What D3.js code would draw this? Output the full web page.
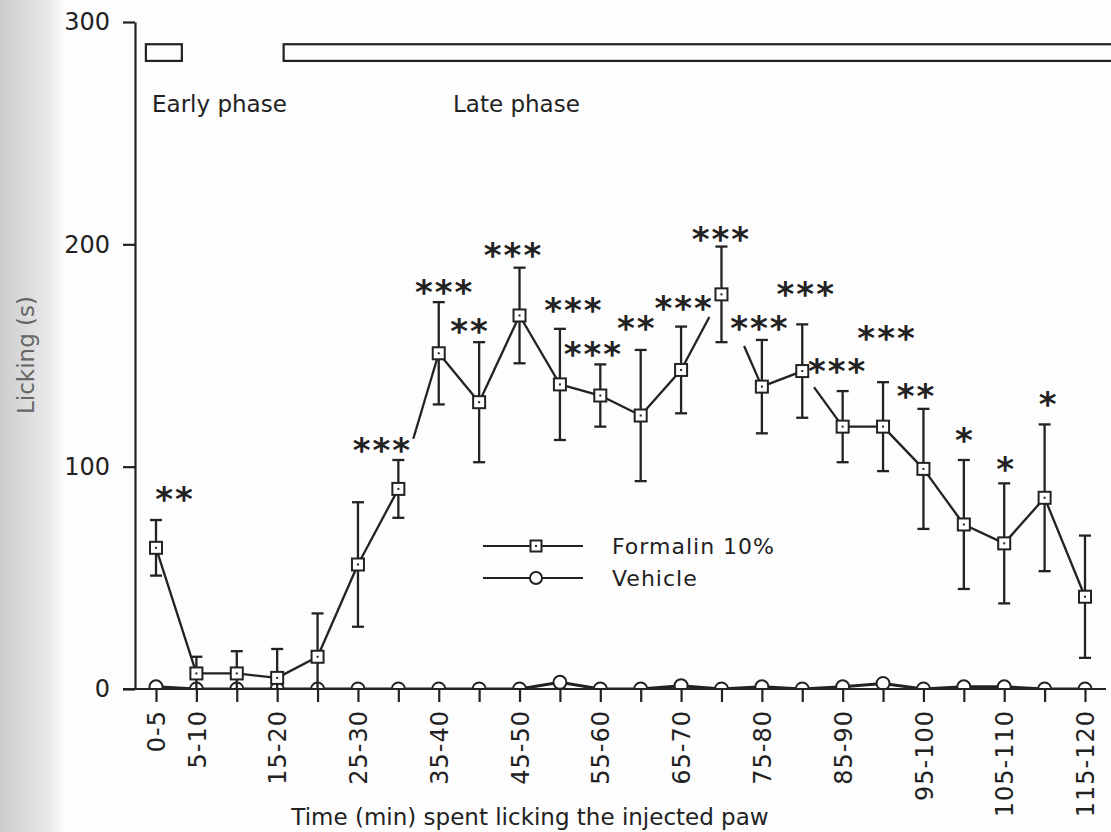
<!DOCTYPE html>
<html>
<head>
<meta charset="utf-8">
<script src="https://cdnjs.cloudflare.com/ajax/libs/d3/7.8.5/d3.min.js"></script>
<style>
	body { margin: 0; background: #fff; }
	svg { display: block; }
	text { font-family: "DejaVu Sans", sans-serif; fill: #222; }
</style>
</head>
<body>
<div id="chart"></div>
<script>

// 5 minute time bins
var bins = ["0-5", "5-10", "10-15", "15-20", "20-25", "25-30", "30-35", "35-40",
	"40-45", "45-50", "50-55", "55-60", "60-65", "65-70", "70-75", "75-80",
	"80-85", "85-90", "90-95", "95-100", "100-105", "105-110", "110-115", "115-120"];

// only these bins carry a tick label
var shownBins = ["0-5", "5-10", "15-20", "25-30", "35-40", "45-50", "55-60", "65-70",
	"75-80", "85-90", "95-100", "105-110", "115-120"];

// licking time (s), mean and s.e.m.
var formalinMean = [63.5, 7, 7, 5, 14.5, 56, 90, 151, 129, 168, 137, 132,
	123, 143.5, 177.5, 136, 143, 118, 118, 99, 74, 65.5, 86, 41.5];
var formalinSem = [12.5, 7.5, 10, 13, 19.5, 28, 13, 23, 27, 21.5, 25, 14,
	29.5, 19.5, 21.5, 21, 21, 16, 20, 27, 29, 27, 33, 27.5];
var vehicleMean = [1, 0, 0, 0, 0, 0, 0, 0, 0, 0, 3, 0,
	0, 1.5, 0, 1, 0, 1, 2.5, 0, 1, 1, 0, 0];

// significance vs vehicle
var sig = ["**", "", "", "", "", "", "***", "***", "**", "***", "***", "***",
	"**", "***", "***", "***", "***", "***", "***", "**", "*", "*", "*", ""];

var yTicks = [0, 100, 200, 300];

// phases in minutes
var phaseNames = ["Early phase", "Late phase"];
var phaseStart = [1.25, 18.3];
var phaseEnd = [5.7, 140];

var legendNames = ["Formalin 10%", "Vehicle"];

// ---- layout tweaks (pixels) ----
var sigNudge = [[19, -28], [0, 0], [0, 0], [0, 0], [0, 0], [0, 0], [-16, -17], [6, -17],
	[-9, -18], [-6, -20], [14, -26], [-7, -17], [-4, -29], [3, -26], [0, -15], [-2, -19],
	[4, -37], [-5, -27], [4, -51], [-7, -20], [1, -27], [2, -21], [4, -27], [0, 0]];
// parts of the connecting line left out (segment index: [from t, to t])
var lineTrim = { 6: [0.37, 1], 13: [0, 0.7], 14: [0.56, 1], 16: [0.29, 1] };

var W = 1111, H = 832;
var margin = { top: 22, left: 135, bottom: 143 };
var ink = "#222";

var svg = d3.select("#chart").append("svg")
	.attr("width", W)
	.attr("height", H);

// scan shadow at the left edge
var defs = svg.append("defs");
var grad = defs.append("linearGradient").attr("id", "shade");
grad.append("stop").attr("offset", "0").attr("stop-color", "#cdcdcd");
grad.append("stop").attr("offset", "0.7").attr("stop-color", "#e6e6e6");
grad.append("stop").attr("offset", "1").attr("stop-color", "#fbfbfb");
svg.append("rect").attr("width", W).attr("height", H).attr("fill", "#fdfdfd");
svg.append("rect").attr("width", 64).attr("height", H).attr("fill", "url(#shade)");

defs.append("clipPath").attr("id", "plotClip")
	.append("rect")
	.attr("x", margin.left).attr("y", 0)
	.attr("width", W - margin.left).attr("height", H - margin.bottom);

// Scales
var y = d3.scaleLinear().domain([0, 300]).range([H - margin.bottom, margin.top]);
var x = d3.scaleLinear().domain([0, bins.length - 1]).range([156, 1085]);
var xMin = d3.scaleLinear().domain([2.5, 117.5]).range([156, 1085]);

var idx = d3.range(bins.length);

// phase bars
var phases = svg.append("g").attr("clip-path", "url(#plotClip)");
phases.selectAll("rect")
	.data(phaseNames)
	.enter().append("rect")
	.attr("x", function (d, i) { return xMin(phaseStart[i]); })
	.attr("width", function (d, i) { return xMin(phaseEnd[i]) - xMin(phaseStart[i]); })
	.attr("y", y(290))
	.attr("height", y(282.5) - y(290))
	.attr("fill", "none")
	.attr("stroke", ink)
	.attr("stroke-width", 2.2);

var phaseLabelX = [152, 453];
svg.selectAll(".phaseLabel")
	.data(phaseNames)
	.enter().append("text")
	.attr("class", "phaseLabel")
	.attr("x", function (d, i) { return phaseLabelX[i]; })
	.attr("y", 112)
	.attr("font-size", 23)
	.text(function (d) { return d; });

var plot = svg.append("g").attr("clip-path", "url(#plotClip)");

// vehicle
plot.append("path")
	.datum(idx)
	.attr("fill", "none")
	.attr("stroke", ink)
	.attr("stroke-width", 3)
	.attr("d", d3.line().x(function (i) { return x(i); }).y(function (i) { return y(vehicleMean[i]); }));

plot.selectAll(".veh")
	.data(idx)
	.enter().append("circle")
	.attr("class", "veh")
	.attr("cx", function (i) { return x(i); })
	.attr("cy", function (i) { return y(vehicleMean[i]); })
	.attr("r", 6.5)
	.attr("fill", "#fff")
	.attr("stroke", ink)
	.attr("stroke-width", 2);

// formalin error bars
var err = plot.selectAll(".err")
	.data(idx)
	.enter().append("g")
	.attr("class", "err")
	.attr("stroke", ink)
	.attr("stroke-width", 2.3);

err.append("line")
	.attr("x1", function (i) { return x(i); })
	.attr("x2", function (i) { return x(i); })
	.attr("y1", function (i) { return y(formalinMean[i] + formalinSem[i]); })
	.attr("y2", function (i) { return y(formalinMean[i] - formalinSem[i]); });

err.selectAll(".cap")
	.data(function (i) { return [formalinMean[i] + formalinSem[i], formalinMean[i] - formalinSem[i]].map(function (v) { return [i, v]; }); })
	.enter().append("line")
	.attr("x1", function (d) { return x(d[0]) - 6; })
	.attr("x2", function (d) { return x(d[0]) + 6; })
	.attr("y1", function (d) { return y(d[1]); })
	.attr("y2", function (d) { return y(d[1]); });

// formalin connecting line, segment by segment
var segs = idx.slice(0, -1).map(function (i) {
	var t = lineTrim[i] || [0, 1];
	var x0 = x(i), y0 = y(formalinMean[i]), x1 = x(i + 1), y1 = y(formalinMean[i + 1]);
	return [x0 + (x1 - x0) * t[0], y0 + (y1 - y0) * t[0], x0 + (x1 - x0) * t[1], y0 + (y1 - y0) * t[1]];
});
plot.selectAll(".seg")
	.data(segs)
	.enter().append("line")
	.attr("class", "seg")
	.attr("x1", function (d) { return d[0]; })
	.attr("y1", function (d) { return d[1]; })
	.attr("x2", function (d) { return d[2]; })
	.attr("y2", function (d) { return d[3]; })
	.attr("stroke", ink)
	.attr("stroke-width", 2.3);

function squareMarker(g, cx, cy, s) {
	g.append("rect")
		.attr("x", cx - s / 2).attr("y", cy - s / 2)
		.attr("width", s).attr("height", s)
		.attr("fill", "#fff").attr("stroke", ink).attr("stroke-width", 2);
	g.append("rect")
		.attr("x", cx - 1).attr("y", cy - 1)
		.attr("width", 2).attr("height", 2)
		.attr("fill", ink);
}

idx.forEach(function (i) {
	squareMarker(plot.append("g"), x(i), y(formalinMean[i]), 12);
});

// significance stars
svg.selectAll(".sig")
	.data(idx.filter(function (i) { return sig[i] !== ""; }))
	.enter().append("text")
	.attr("class", "sig")
	.attr("x", function (i) { return x(i) + sigNudge[i][0]; })
	.attr("y", function (i) { return y(formalinMean[i] + formalinSem[i]) + sigNudge[i][1] + 19; })
	.attr("text-anchor", "middle")
	.attr("font-size", 34)
	.attr("font-weight", "bold")
	.attr("letter-spacing", 2)
	.text(function (i) { return sig[i]; });

// Axes
var yAxis = svg.append("g")
	.attr("transform", "translate(" + margin.left + ",0)")
	.call(d3.axisLeft(y).tickValues(yTicks).tickSize(12).tickPadding(13).tickSizeOuter(0));
yAxis.select(".domain").attr("stroke", ink).attr("stroke-width", 2.2);
yAxis.selectAll(".tick line").attr("stroke", ink).attr("stroke-width", 2.2);
yAxis.selectAll(".tick text").attr("font-size", 24).attr("font-family", "DejaVu Sans").attr("fill", "#333");

var xAxis = svg.append("g")
	.attr("transform", "translate(0," + y(0) + ")")
	.call(d3.axisBottom(x)
		.tickValues(idx)
		.tickSize(13)
		.tickSizeOuter(0)
		.tickFormat(function (i) { return shownBins.indexOf(bins[i]) >= 0 ? bins[i] : ""; }));
xAxis.select(".domain").remove();
xAxis.append("line")
	.attr("x1", margin.left - 12).attr("x2", 1106)
	.attr("stroke", ink).attr("stroke-width", 2.2);
xAxis.selectAll(".tick line").attr("stroke", ink).attr("stroke-width", 2.2);
xAxis.selectAll(".tick text")
	.attr("transform", "rotate(-90)")
	.attr("text-anchor", "end")
	.attr("x", -21)
	.attr("y", 0)
	.attr("dy", "0.36em")
	.attr("font-size", 24)
	.attr("letter-spacing", 1)
	.attr("font-family", "DejaVu Sans")
	.attr("fill", ink);

// axis titles
svg.append("text")
	.attr("x", 530)
	.attr("y", 825)
	.attr("text-anchor", "middle")
	.attr("font-size", 23)
	.text("Time (min) spent licking the injected paw");

svg.append("text")
	.attr("transform", "translate(34,355) rotate(-90)")
	.attr("text-anchor", "middle")
	.attr("font-size", 23)
	.style("fill", "#666")
	.text("Licking (s)");

// legend
var legendY = [546, 578];
var legend = svg.selectAll(".legend")
	.data(legendNames)
	.enter().append("g")
	.attr("class", "legend")
	.attr("transform", function (d, i) { return "translate(0," + legendY[i] + ")"; });

legend.append("line")
	.attr("x1", 483).attr("x2", 583)
	.attr("stroke", ink).attr("stroke-width", 2.2);
legend.append("text")
	.attr("x", 612)
	.attr("y", 8)
	.attr("font-size", 22)
	.attr("letter-spacing", 1)
	.text(function (d) { return d; });
legend.each(function (d, i) {
	var g = d3.select(this);
	if (i === 0) {
		squareMarker(g, 536, 0, 11);
	} else {
		g.append("circle").attr("cx", 536).attr("r", 6)
			.attr("fill", "#fff").attr("stroke", ink).attr("stroke-width", 2);
	}
});

</script>
</body>
</html>
